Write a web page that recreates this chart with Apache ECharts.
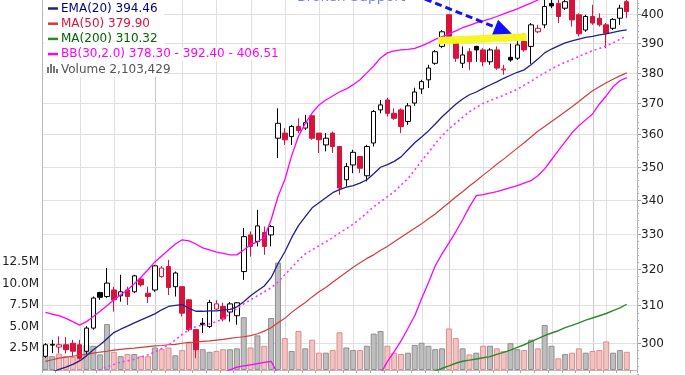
<!DOCTYPE html>
<html><head><meta charset="utf-8">
<script src="https://cdn.jsdelivr.net/npm/echarts/dist/echarts.min.js"></script>
<style>html,body{margin:0;padding:0;background:#fff}#c{width:685px;height:375px}</style>
</head><body><div id="c"></div>
<script>
// ---- data (daily bars) ----
const open = [
 296.5,299.4,298.9,299.5,299.9,299.5,297.8,303.9,313.5,312.4,
 314.2,312.6,314.2,313.7,317.2,313.3,314.2,317.9,320.7,315.1,
 315.1,311.5,303.5,305.2,304.3,309.0,309.7,308.2,307.2,319.3,
 329.7,327.8,330.4,329.7,358.8,360.4,359.3,362.5,362.0,365.9,
 360.4,356.7,360.4,356.2,346.0,350.5,353.1,347.2,357.3,367.8,
 371.0,366.7,367.8,364.1,370.0,374.6,377.6,383.1,388.8,399.7,
 389.9,383.1,387.0,388.8,387.6,383.6,387.6,380.9,385.1,384.8,
 390.5,388.8,393.8,396.2,403.7,403.7,402.0,406.0,399.7,394.4,
 399.1,398.5,396.2,395.0,398.5,404.3];
const high = [
 299.9,300.8,301.7,301.5,300.8,300.8,304.4,312.4,313.7,320.3,
 315.1,318.4,315.1,318.4,317.5,315.1,321.2,320.8,322.6,319.3,
 315.3,311.7,303.6,306.6,311.5,311.4,310.7,310.9,310.9,331.7,
 330.7,337.0,332.1,332.6,368.3,362.0,363.0,365.1,366.2,366.2,
 360.4,360.4,360.9,356.3,351.1,355.2,353.2,356.7,367.8,371.0,
 371.7,368.3,368.3,370.0,375.0,377.6,382.6,387.6,394.4,399.9,
 390.0,388.8,388.2,389.0,388.2,388.2,388.8,382.6,389.7,391.0,
 393.3,396.8,396.2,405.0,405.2,405.5,405.6,406.7,400.2,399.7,
 403.2,400.2,396.8,398.5,403.2,405.5];
const low = [
 296.1,297.3,297.3,297.2,296.5,295.6,296.9,303.5,311.5,312.0,
 308.3,311.0,310.1,313.3,315.1,310.6,313.7,317.6,312.8,312.4,
 307.0,303.0,296.0,302.6,303.9,308.8,305.7,305.6,304.8,317.0,
 323.5,326.4,324.0,326.4,352.6,356.7,356.7,360.4,361.4,358.3,
 354.2,354.7,354.2,341.5,344.0,348.0,348.0,345.5,356.2,366.7,
 365.7,364.6,360.4,363.0,369.1,373.0,374.9,382.6,388.2,391.6,
 383.6,381.5,380.9,383.6,382.1,382.6,380.9,379.3,383.6,384.2,
 387.0,382.9,393.3,395.0,402.0,396.8,401.4,395.6,392.2,393.8,
 396.2,395.6,388.2,394.4,396.2,398.5];
const close = [
 299.5,299.6,299.5,298.2,297.8,296.0,303.9,312.0,312.2,316.1,
 311.5,313.7,312.4,318.1,315.6,312.4,320.9,320.3,314.9,318.9,
 307.9,303.5,298.2,304.8,310.8,310.4,306.3,310.4,310.7,329.2,
 326.4,332.3,326.4,332.1,363.5,358.3,362.5,361.2,363.7,358.8,
 358.3,358.8,356.2,343.5,350.0,354.4,349.5,356.2,367.3,369.4,
 366.7,365.1,362.5,369.1,373.6,377.0,381.5,387.0,393.8,392.2,
 384.8,385.9,383.6,387.6,383.6,387.6,381.5,381.2,384.2,389.3,
 387.6,396.2,395.0,402.6,402.8,399.1,404.3,397.9,393.1,399.1,
 396.8,396.2,393.3,398.1,402.0,400.8];
// volume in millions of shares
const volume = [
 1.7,1.6,1.9,1.6,1.5,1.9,2.9,2.8,1.8,5.3,
 2.1,1.6,1.85,1.85,1.6,1.6,2.6,2.4,2.6,1.7,
 2.3,3.15,2.6,2.4,2.1,2.2,2.4,2.4,2.5,6.1,
 2.6,4.0,2.8,6.0,12.4,3.7,2.2,4.5,2.5,3.5,
 2.0,2.0,2.3,4.35,2.6,2.3,2.3,2.8,4.2,4.5,
 2.8,2.0,1.85,2.0,2.9,3.15,2.8,2.4,2.5,4.8,
 3.7,2.5,1.8,2.0,2.8,2.8,2.5,2.2,3.1,2.4,
 2.3,3.5,2.5,5.2,2.8,1.35,1.85,2.0,2.5,2.0,
 2.2,2.3,3.3,2.0,2.3,2.1];
const ema20 = [
 291.8,292.5,293.1,293.7,294.4,295.3,296.6,298.2,299.5,301.1,
 302.7,303.6,304.4,305.3,306.1,306.9,307.7,308.8,309.7,310.0,
 310.2,309.2,308.4,308.4,308.5,308.5,308.7,308.9,309.6,311.0,
 312.6,314.0,315.3,317.6,321.5,324.8,328.9,332.4,335.0,337.6,
 339.1,340.6,342.1,343.0,343.8,344.2,345.0,346.0,347.8,349.8,
 350.6,351.6,353.0,355.2,357.4,359.2,361.1,363.3,365.6,367.6,
 369.6,371.3,372.7,373.6,374.8,375.9,376.9,378.1,379.1,380.1,
 380.9,382.6,384.5,386.6,387.9,389.0,390.0,390.7,391.3,391.9,
 392.2,392.7,393.1,393.6,394.1,394.46];
const ma50 = [
 295.2,295.6,296.0,296.3,296.5,296.8,297.0,297.3,297.6,297.8,
 298.1,298.3,298.5,298.6,298.8,299.0,299.2,299.3,299.5,299.6,
 299.9,300.1,300.2,300.4,300.5,300.7,300.9,301.2,301.4,301.6,
 301.9,302.4,303.1,304.0,305.3,306.5,308.1,309.5,310.8,312.3,
 313.7,314.9,316.3,317.7,319.1,320.5,321.8,323.0,324.0,325.3,
 326.4,327.7,329.0,330.3,331.6,332.9,334.4,335.8,337.5,339.1,
 340.8,342.4,344.1,345.7,347.4,349.0,350.7,352.3,354.0,355.7,
 357.4,359.2,361.0,362.5,364.1,365.6,367.2,368.8,370.5,372.3,
 374.0,375.3,376.6,377.8,378.9,379.9];
// MA(200) lies below the visible price range until the last ~30 bars
const ma200 = [...Array(56).fill(null),
 292.3,292.7,293.4,294.0,294.7,295.2,295.5,295.8,296.1,296.4,
 297.0,297.5,298.1,298.8,299.5,300.3,301.1,301.9,302.6,303.2,
 304.0,304.6,305.3,306.0,306.6,307.2,307.8,308.6,309.3,310.3];
const bbUpper = [
 308.1,307.6,307.2,306.5,305.6,304.7,305.6,307.0,308.4,309.9,
 311.5,312.9,314.2,315.9,317.8,319.8,322.0,323.7,325.4,327.1,
 328.3,328.0,327.1,326.0,325.4,324.8,324.4,324.0,324.0,325.4,
 326.9,327.7,328.9,334.1,340.9,346.0,353.3,359.4,363.5,366.8,
 369.4,371.0,372.3,373.6,374.6,376.0,377.6,379.9,382.2,384.9,
 386.6,387.3,387.6,387.8,388.1,389.0,390.0,391.2,392.1,393.1,
 394.1,395.2,396.0,396.9,397.6,398.3,399.1,400.0,400.9,401.8,
 402.8,403.8,404.9,405.6,406.1,406.5,406.7,406.8,406.9,406.9,
 406.9,406.8,406.7,406.6,406.6,406.51];
const bbMiddle = [
 290.0,290.3,290.6,290.9,291.3,291.7,292.1,292.5,293.0,293.7,
 294.4,295.0,295.3,295.7,296.3,296.9,297.6,298.5,299.5,300.8,
 302.2,303.5,304.3,304.7,305.0,305.6,306.4,307.9,309.1,310.4,
 311.5,312.6,313.7,314.8,316.4,318.4,320.4,322.5,324.3,325.4,
 326.6,327.7,328.9,330.3,331.5,332.8,334.4,336.1,337.9,339.4,
 340.9,342.4,344.4,346.3,349.0,351.8,354.3,357.1,359.6,361.7,
 363.6,365.4,367.2,368.6,369.9,370.8,371.7,372.5,373.5,374.5,
 375.8,377.1,378.6,379.9,381.2,382.4,383.4,384.4,385.4,386.4,
 387.3,388.1,389.0,390.0,391.2,392.4];
const bbLower = [...Array(26).fill(null),
 292.3,293.0,293.7,294.0,
 294.3,294.6,294.9,295.2,291.9,290.8,287.5,285.6,285.1,284.0,
 283.8,284.4,285.5,287.0,288.4,289.6,290.5,291.0,291.5,292.0,
 295.1,297.7,300.5,303.8,307.2,311.8,316.2,320.9,324.3,327.4,
 330.6,334.1,337.9,341.2,341.5,342.0,342.4,343.0,343.6,344.2,
 345.0,345.7,347.2,349.3,352.1,354.9,357.7,360.5,362.7,364.6,
 366.5,369.7,372.3,375.3,377.3,378.3];
const days = open.map((_, i) => 'D' + (i + 1)).concat(['']);
const priceTicks = [300, 310, 320, 330, 340, 350, 360, 370, 380, 390, 400];
const weekLines = [5, 10, 20, 25, 30, 35, 40, 45, 50, 55, 64, 69, 74, 78, 82];
const monthLines = [16, 59, 80];
const legendRows = [
  ['EMA(20) 394.46', '#000080', '#1f1f8f'],
  ['MA(50) 379.90', '#e0103a', '#d23c3c'],
  ['MA(200) 310.32', '#006400', '#2a8a2a'],
  ['BB(30,2.0) 378.30 - 392.40 - 406.51', '#ff00ff', '#ff00ff']
];
const volumeLegend = 'Volume 2,103,429';
// annotation: support level and arrow (bar index, price)
const supportIdx = [57.44, 70.37], supportPrice = [390.7, 392.0];
const arrowIdx = [54.0, 68.2], arrowPrice = [406.7, 393.1];
const noteText = 'Broken Support';

// ---- styles ----
const FONT = '"DejaVu Sans", Verdana, sans-serif';
const RED = '#d7133b';
const GL = 42, GR = 637, GT = 0, GB = 370;
const EMPTY = ['-', '-', '-', '-'];

const isUp = i => (i === 0 ? close[i] >= open[i] : close[i] >= close[i - 1]);
const blackCandles = open.map((o, i) => isUp(i) ? [o, close[i], low[i], high[i]] : EMPTY);
const redCandles = open.map((o, i) => isUp(i) ? EMPTY : [o, close[i], low[i], high[i]]);
const volData = volume.map((v, i) => ({ value: v,
  itemStyle: isUp(i) ? { color: '#bebebe', borderColor: '#8f8f8f', borderWidth: 1 }
                     : { color: '#f2c3c3', borderColor: '#dc8e8e', borderWidth: 1 } }));
function lineSeries(name, data, color, width, type) {
  return { name, type: 'line', data, xAxisIndex: 0, yAxisIndex: 0, symbol: 'none', silent: true, z: 4,
    connectNulls: false, lineStyle: { color, width, type: type || 'solid' } };
}
function candleSeries(name, data, col) {
  return { name, type: 'candlestick', xAxisIndex: 0, yAxisIndex: 0, data, barWidth: 5, z: 3, silent: true,
    itemStyle: { color: '#ffffff', color0: col, borderColor: col, borderColor0: col, borderColorDoji: col, borderWidth: 1 } };
}

const chart = echarts.init(document.getElementById('c'), null, { renderer: 'canvas' });
chart.setOption({
  animation: false,
  backgroundColor: '#ffffff',
  grid: { left: GL, right: 685 - GR, top: GT, bottom: 375 - GB, containLabel: false, outerBoundsMode: 'none' },
  xAxis: {
    type: 'category', data: days, boundaryGap: true,
    axisLine: { show: true, lineStyle: { color: '#bbbbbb' } },
    axisTick: { show: true, interval: 1, length: 3, lineStyle: { color: '#aaaaaa' } },
    axisLabel: { show: false }, splitLine: { show: false }
  },
  yAxis: [
    { type: 'log', logBase: 10, position: 'right', min: 292.96, max: 404.9,
      axisLine: { show: true, lineStyle: { color: '#b5b5b5' } },
      axisTick: { show: false }, axisLabel: { show: false }, splitLine: { show: false } },
    { type: 'value', position: 'left', min: 0, max: 42.73, interval: 2.5,
      axisLine: { show: true, lineStyle: { color: '#bbbbbb' } },
      axisTick: { show: false }, splitLine: { show: false },
      axisLabel: { margin: 3, color: '#222222', fontFamily: FONT, fontSize: 12,
        formatter: v => (v > 0 && v <= 12.5) ? v.toFixed(1) + 'M' : '' } }
  ],
  series: [
    { name: 'Volume', type: 'bar', xAxisIndex: 0, yAxisIndex: 1, data: volData, barWidth: 6, z: 1, silent: true },
    candleSeries('Price up', blackCandles, '#000000'),
    candleSeries('Price down', redCandles, RED),
    lineSeries('MA(200)', ma200, '#2a8a2a', 1.4),
    lineSeries('MA(50)', ma50, '#d23c3c', 1.2),
    lineSeries('BB lower', bbLower, '#ff00ff', 1.3),
    lineSeries('BB middle', bbMiddle, '#ff33ff', 1.6, [2, 3]),
    lineSeries('BB upper', bbUpper, '#ff00ff', 1.3),
    lineSeries('EMA(20)', ema20, '#1f1f8f', 1.3)
  ]
});

// ---- axis decorations via the library's own scales ----
const px = i => chart.convertToPixel({ xAxisIndex: 0 }, i);
const py = v => chart.convertToPixel({ yAxisIndex: 0 }, v);
const pxf = f => { const a = Math.floor(f); return px(a) + (f - a) * (px(a + 1) - px(a)); };
const els = [];
weekLines.forEach(i => { const x = Math.round(px(i)) + 0.5;
  els.push({ type: 'line', z: 0, silent: true, shape: { x1: x, y1: GT, x2: x, y2: GB }, style: { stroke: '#e0e0e0', lineWidth: 1 } }); });
monthLines.forEach(i => { const x = Math.round(px(i)) + 0.5;
  els.push({ type: 'line', z: 0, silent: true, shape: { x1: x, y1: GT, x2: x, y2: GB }, style: { stroke: '#c8c8c8', lineWidth: 1 } }); });
priceTicks.forEach(v => { const y = Math.round(py(v)) + 0.5;
  els.push({ type: 'line', z: 0, silent: true, shape: { x1: GL, y1: y, x2: GR, y2: y }, style: { stroke: '#e0e0e0', lineWidth: 1 } });
  els.push({ type: 'line', z: 0, silent: true, shape: { x1: GR, y1: y, x2: GR + 4, y2: y }, style: { stroke: '#999999', lineWidth: 1 } });
  els.push({ type: 'text', z: 0, silent: true, style: { text: String(v), x: GR + 4, y: y, fill: '#222222', font: '12px ' + FONT,
    align: 'left', verticalAlign: 'middle', textAlign: 'left', textVerticalAlign: 'middle' } });
});
for (let v = 292; v <= 406; v += 2) { if (v % 10 === 0) continue; const y = Math.round(py(v)) + 0.5;
  els.push({ type: 'line', z: 0, silent: true, shape: { x1: GR, y1: y, x2: GR + 2, y2: y }, style: { stroke: '#aaaaaa', lineWidth: 1 } }); }

// support highlight
els.push({ type: 'line', z: 20, silent: true,
  shape: { x1: pxf(supportIdx[0]), y1: py(supportPrice[0]), x2: pxf(supportIdx[1]), y2: py(supportPrice[1]) },
  style: { stroke: '#f6f620', lineWidth: 7.5, lineCap: 'butt' } });
// dashed arrow
(function () {
  const sx = pxf(arrowIdx[0]), sy = py(arrowPrice[0]), tx = pxf(arrowIdx[1]), ty = py(arrowPrice[1]);
  const dx = tx - sx, dy = ty - sy, len = Math.hypot(dx, dy), ux = dx / len, uy = dy / len;
  const bx = tx - 18 * ux, by = ty - 18 * uy, nx = -uy, ny = ux;
  els.push({ type: 'line', z: 20, silent: true, shape: { x1: sx, y1: sy, x2: bx, y2: by },
    style: { stroke: '#1010ff', lineWidth: 3, lineDash: [7, 4] } });
  els.push({ type: 'polygon', z: 20, silent: true,
    shape: { points: [[tx, ty], [bx + 8 * nx, by + 8 * ny], [bx - 8 * nx, by - 8 * ny]] }, style: { fill: '#1010ff' } });
})();
// annotation text lies mostly above the visible area (only its lower edge shows)
els.push({ type: 'text', z: 20, silent: true, style: { text: noteText, x: 297, y: 4.5, fill: '#7384f2', font: '14px ' + FONT,
  align: 'left', verticalAlign: 'bottom', textAlign: 'left', textVerticalAlign: 'bottom' } });

// legend
els.push({ type: 'rect', z: 10, silent: true, shape: { x: 44, y: 0, width: 120, height: 77 }, style: { fill: '#ffffff' } });
legendRows.forEach((r, k) => { const y = 8.5 + k * 15.2;
  els.push({ type: 'line', z: 11, silent: true, shape: { x1: 48, y1: y, x2: 58, y2: y }, style: { stroke: r[2], lineWidth: 2.5 } });
  els.push({ type: 'text', z: 11, silent: true, style: { text: r[0], x: 61, y: y, fill: r[1], font: '12px ' + FONT,
    align: 'left', verticalAlign: 'middle', textAlign: 'left', textVerticalAlign: 'middle',
    backgroundColor: '#ffffff', padding: [1, 3, 1, 0] } });
});
[[47, 67, 6], [50, 64, 9], [53, 66, 7], [56, 69, 4]].forEach(b =>
  els.push({ type: 'rect', z: 11, silent: true, shape: { x: b[0], y: b[1], width: 2, height: b[2] }, style: { fill: '#777777' } }));
els.push({ type: 'text', z: 11, silent: true, style: { text: volumeLegend, x: 61, y: 69.5, fill: '#555555', font: '12px ' + FONT,
  align: 'left', verticalAlign: 'middle', textAlign: 'left', textVerticalAlign: 'middle' } });

chart.setOption({ graphic: { elements: els } });
</script>
</body></html>
